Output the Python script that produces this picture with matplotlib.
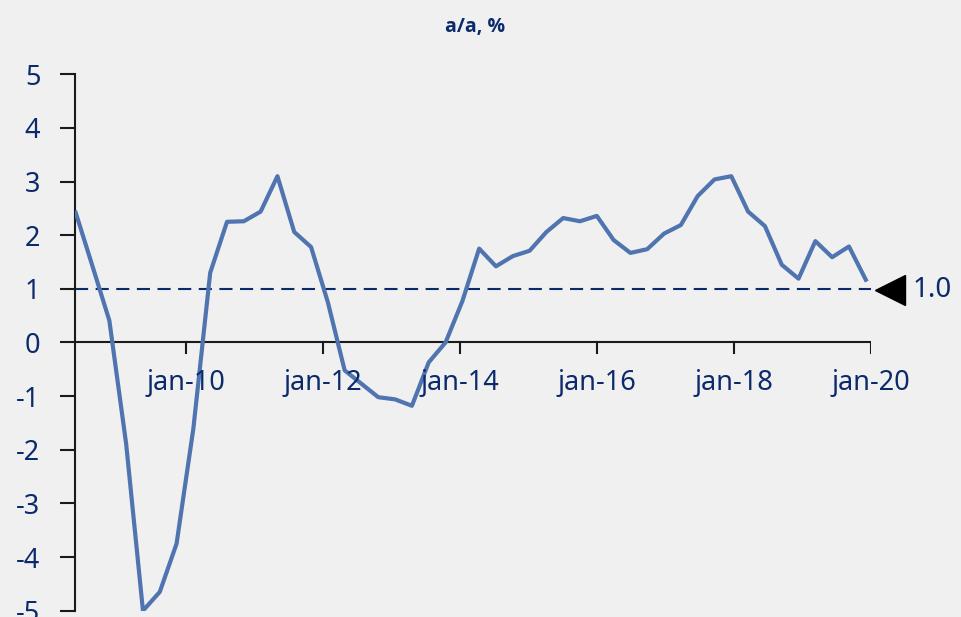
import numpy as np
import matplotlib
matplotlib.use("Agg")
import matplotlib.pyplot as plt

# quarterly y/y growth, %
values = [2.42, 1.42, 0.41, -1.89, -5.0, -4.65, -3.75, -1.6, 1.30, 2.25,
          2.26, 2.44, 3.10, 2.06, 1.78, 0.75, -0.52, -0.77, -1.02, -1.06,
          -1.18, -0.37, 0.0, 0.77, 1.75, 1.42, 1.61, 1.71, 2.06, 2.32,
          2.26, 2.36, 1.91, 1.67, 1.74, 2.03, 2.19, 2.73, 3.04, 3.10,
          2.44, 2.17, 1.45, 1.19, 1.89, 1.59, 1.79, 1.17]
tick_years = [2010, 2012, 2014, 2016, 2018, 2020]
tick_labels = ["jan-10", "jan-12", "jan-14", "jan-16", "jan-18", "jan-20"]
y_ticks = [5, 4, 3, 2, 1, 0, -1, -2, -3, -4, -5]
ref_level = 1.0
ref_label = "1.0"
subtitle = "a/a, %"

# point positions in decimal years
x_first = 2008.39
x_step = 0.2454
x = x_first + x_step * np.arange(len(values))

navy = "#0b2a6b"
line_col = "#4f74b0"
bg = "#f0f0f0"

plt.rcParams['font.family'] = ['Noto Sans', 'DejaVu Sans']

fig = plt.figure(figsize=(9.62, 6.17), dpi=100, facecolor=bg)
ax = fig.add_axes([0.078, 0.0102, 0.8274, 0.8694])
ax.set_facecolor(bg)

ax.plot(x, values, color=line_col, linewidth=3, zorder=3)
ax.plot([2008.38, 2020.0], [ref_level, ref_level], color=navy, linewidth=1.5,
        dashes=(6.3, 3.6), zorder=2)

ax.set_xlim(2008.38, 2020.0)
ax.set_ylim(-5, 5)

for s in ['top', 'right', 'bottom']:
    ax.spines[s].set_visible(False)
ax.spines['left'].set_linewidth(1.5)
ax.spines['left'].set_color('#1a1a1a')

# zero line acts as the x axis
ax.axhline(0, color='#1a1a1a', linewidth=1.5, zorder=1)

ax.set_yticks(y_ticks)
ax.set_yticklabels([str(v) for v in y_ticks])
ax.tick_params(axis='y', direction='out', length=11, width=1.5, color='#1a1a1a',
               labelsize=19.5, labelcolor=navy, pad=14)

ax.set_xticks([])
for yr, lab in zip(tick_years, tick_labels):
    ax.plot([yr, yr], [0, -0.19], color='#1a1a1a', linewidth=1.5, zorder=1)
    ax.text(yr, -0.75, lab, ha='center', va='center', fontsize=19.5, color=navy)

# end-of-line marker and value label
ax.plot([2020.28], [ref_level - 0.02], marker='<', markersize=21, color='black',
        clip_on=False, zorder=4)
ax.text(2020.6, ref_level - 0.02, ref_label, ha='left', va='center',
        fontsize=20, color=navy, clip_on=False)

fig.text(475 / 962, 1 - 27 / 617, subtitle, ha='center', va='center',
         fontsize=14, color=navy, fontweight='bold',
         family=['Open Sans', 'DejaVu Sans'])

fig.savefig("out.png", dpi=100, facecolor=bg)
